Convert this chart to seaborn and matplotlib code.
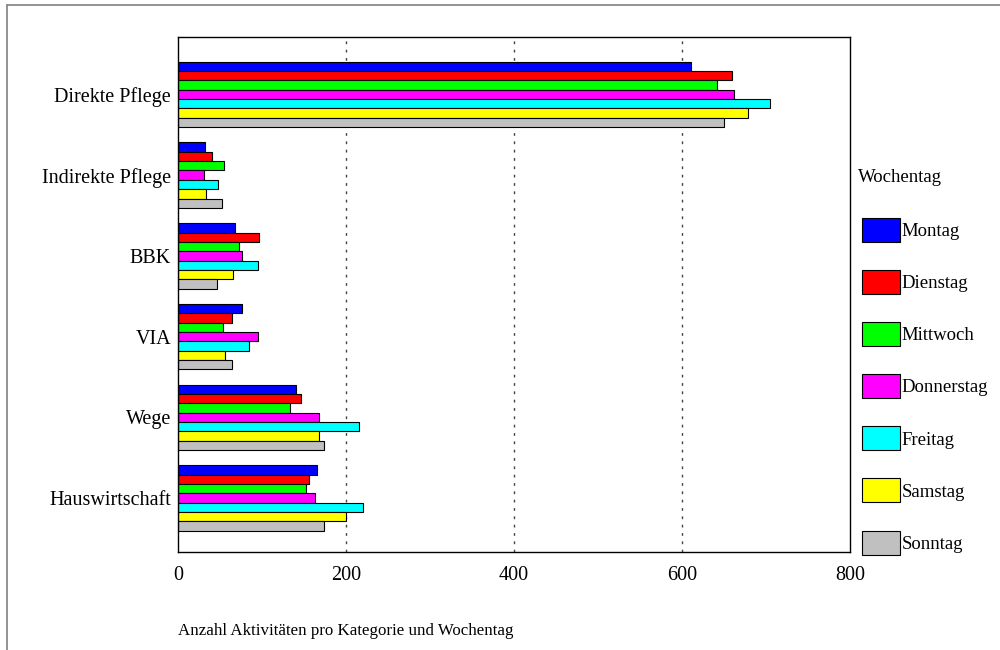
import matplotlib
matplotlib.use("Agg")
import matplotlib.pyplot as plt
from matplotlib.lines import Line2D
import seaborn as sns
import pandas as pd

# Activity categories and weekdays
categories = ["Direkte Pflege", "Indirekte Pflege", "BBK", "VIA", "Wege", "Hauswirtschaft"]
weekdays = ["Montag", "Dienstag", "Mittwoch", "Donnerstag", "Freitag", "Samstag", "Sonntag"]

# Number of activities per category, one list per weekday
montag = [611, 32, 68, 76, 140, 166]
dienstag = [660, 40, 97, 64, 147, 156]
mittwoch = [642, 55, 73, 53, 133, 152]
donnerstag = [662, 31, 76, 95, 168, 163]
freitag = [705, 48, 95, 85, 215, 220]
samstag = [678, 33, 65, 56, 168, 200]
sonntag = [650, 52, 46, 64, 174, 174]

day_colors = ["#0000FF", "#FF0000", "#00FF00", "#FF00FF", "#00FFFF", "#FFFF00", "#C0C0C0"]

series = [montag, dienstag, mittwoch, donnerstag, freitag, samstag, sonntag]
rows = []
for day, vals in zip(weekdays, series):
    for cat, v in zip(categories, vals):
        rows.append({"Kategorie": cat, "Wochentag": day, "Anzahl": v})
df = pd.DataFrame(rows)

sns.set_theme(style="white")
plt.rcParams["font.family"] = ["Liberation Serif", "DejaVu Serif"]
plt.rcParams["text.color"] = "black"

fig = plt.figure(figsize=(10, 6.5), dpi=100)
ax = fig.add_axes([0.178, 0.1508, 0.672, 0.7923])

sns.barplot(data=df, y="Kategorie", x="Anzahl", hue="Wochentag",
            order=categories, hue_order=weekdays, palette=day_colors,
            orient="h", width=0.81, edgecolor="black", linewidth=0.8,
            saturation=1, errorbar=None, ax=ax)

ax.set_xlim(0, 800)
ax.set_xticks([0, 200, 400, 600, 800])
ax.set_ylim(5.669, -0.712)
ax.set_xlabel("")
ax.set_ylabel("")
for x in [200, 400, 600]:
    ax.axvline(x, color="#444444", linestyle=(0, (2, 4)), linewidth=1.0, zorder=0)

for sp in ax.spines.values():
    sp.set_color("black")
    sp.set_linewidth(1.0)
ax.tick_params(axis="y", direction="out", length=5, width=2.0,
               color="black", labelsize=14.5, labelcolor="black", pad=0)
ax.tick_params(axis="x", direction="out", length=3, width=2.0,
               color="black", labelsize=14.5, labelcolor="black", pad=7)

handles, labels = ax.get_legend_handles_labels()
if ax.legend_ is not None:
    ax.legend_.remove()
leg = fig.legend(handles, labels, loc="upper left",
                 bbox_to_anchor=(0.862, 0.6646), frameon=False,
                 fontsize=13.5, labelcolor="black",
                 handlelength=2.0, handleheight=1.59, handletextpad=0.1,
                 labelspacing=1.5, borderaxespad=0, borderpad=0)

fig.text(0.858, 1 - 178 / 650, "Wochentag", ha="left", va="center",
         fontsize=13.5, color="black")

fig.text(0.178, 0.029, "Anzahl Aktivitäten pro Kategorie und Wochentag",
         ha="left", va="center", fontsize=12.2, color="black")

# Outer chart frame (left and top edges)
fig.add_artist(Line2D([0.007, 0.007], [0.0, 0.992], color="#808080", linewidth=1.2,
                      transform=fig.transFigure))
fig.add_artist(Line2D([0.007, 1.0], [0.992, 0.992], color="#808080", linewidth=1.2,
                      transform=fig.transFigure))

fig.savefig("out.png", dpi=100, facecolor="white")
